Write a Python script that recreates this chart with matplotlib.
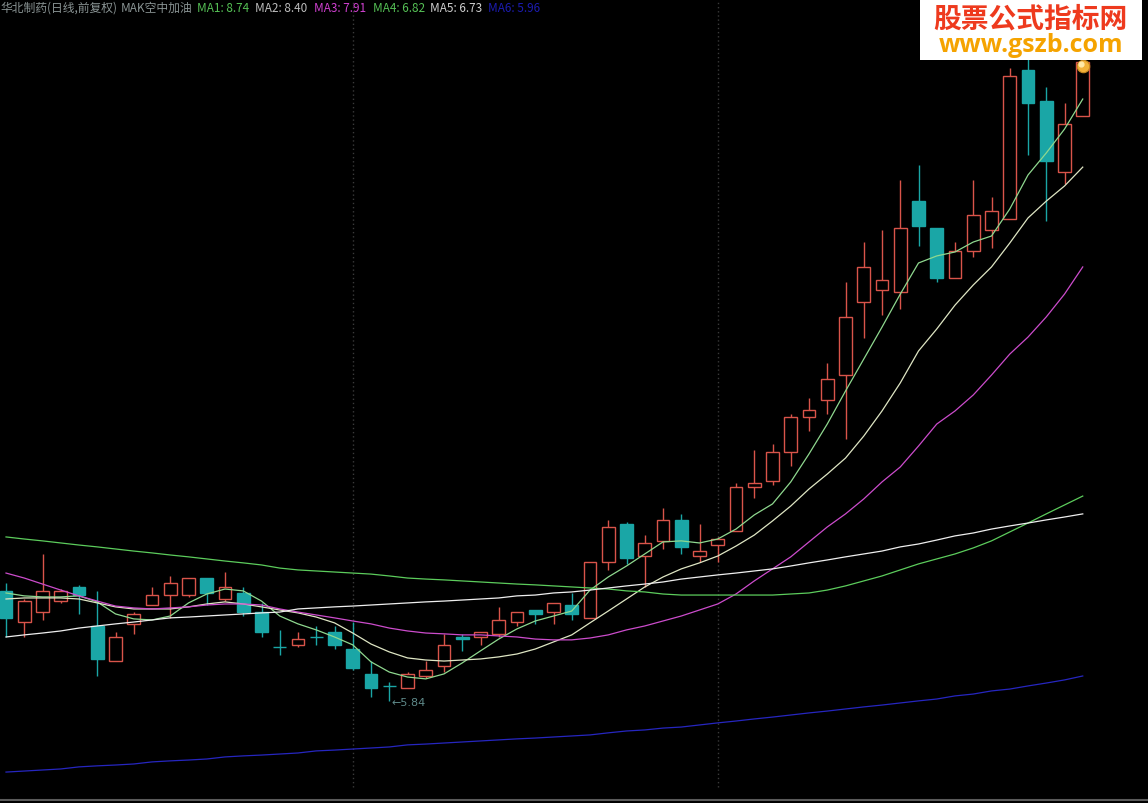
import numpy as np
import matplotlib.pyplot as plt
from matplotlib.patches import Rectangle

# daily candles
opens = [6.37, 6.22, 6.27, 6.32, 6.39, 6.20, 6.03, 6.21, 6.30, 6.35,
         6.35, 6.43, 6.33, 6.36, 6.27, 6.10, 6.11, 6.15, 6.17, 6.09,
         5.97, 5.91, 5.90, 5.96, 6.01, 6.15, 6.15, 6.16, 6.22, 6.28,
         6.27, 6.30, 6.24, 6.51, 6.69, 6.54, 6.61, 6.71, 6.54, 6.59,
         6.66, 6.87, 6.90, 7.04, 7.21, 7.29, 7.41, 7.76, 7.82, 7.81,
         8.25, 8.12, 7.88, 8.01, 8.11, 8.16, 8.88, 8.73, 8.39, 8.66]
highs = [6.41, 6.33, 6.55, 6.38, 6.40, 6.37, 6.17, 6.27, 6.39, 6.44,
         6.43, 6.43, 6.46, 6.39, 6.31, 6.18, 6.17, 6.20, 6.20, 6.22,
         6.03, 5.93, 5.98, 6.03, 6.16, 6.16, 6.17, 6.29, 6.27, 6.28,
         6.31, 6.36, 6.51, 6.71, 6.70, 6.64, 6.77, 6.74, 6.69, 6.63,
         6.89, 7.05, 7.08, 7.22, 7.30, 7.47, 7.86, 8.05, 8.11, 8.35,
         8.42, 8.12, 8.05, 8.35, 8.27, 8.89, 8.98, 8.80, 8.72, 8.95]
lows = [6.15, 6.15, 6.23, 6.31, 6.26, 5.96, 6.03, 6.16, 6.30, 6.24,
        6.34, 6.30, 6.32, 6.25, 6.15, 6.06, 6.10, 6.11, 6.09, 5.99,
        5.86, 5.84, 5.90, 5.95, 5.98, 6.08, 6.11, 6.15, 6.20, 6.21,
        6.21, 6.23, 6.24, 6.47, 6.50, 6.39, 6.57, 6.55, 6.51, 6.51,
        6.66, 6.82, 6.88, 6.97, 7.14, 7.22, 7.10, 7.59, 7.70, 7.73,
        8.03, 7.86, 7.88, 7.98, 8.02, 8.16, 8.47, 8.15, 8.33, 8.66]
closes = [6.24, 6.32, 6.37, 6.37, 6.35, 6.04, 6.15, 6.26, 6.35, 6.41,
          6.43, 6.36, 6.39, 6.27, 6.17, 6.10, 6.14, 6.15, 6.11, 6.00,
          5.90, 5.91, 5.97, 5.99, 6.11, 6.14, 6.17, 6.23, 6.27, 6.26,
          6.31, 6.26, 6.51, 6.68, 6.53, 6.60, 6.71, 6.58, 6.56, 6.62,
          6.87, 6.89, 7.04, 7.21, 7.24, 7.39, 7.69, 7.93, 7.87, 8.12,
          8.13, 7.88, 8.01, 8.18, 8.20, 8.85, 8.72, 8.44, 8.62, 8.92]

# moving average lines (values at each candle)
ma1 = [6.360, 6.346, 6.341, 6.341, 6.346, 6.317, 6.259, 6.235, 6.230, 6.249,
       6.312, 6.355, 6.379, 6.370, 6.321, 6.249, 6.211, 6.182, 6.148, 6.110,
       6.028, 5.979, 5.955, 5.946, 5.970, 6.023, 6.081, 6.138, 6.187, 6.225,
       6.249, 6.273, 6.374, 6.437, 6.490, 6.548, 6.606, 6.611, 6.601, 6.620,
       6.668, 6.736, 6.789, 6.895, 7.030, 7.174, 7.333, 7.487, 7.641, 7.800,
       7.950, 7.984, 8.003, 8.051, 8.080, 8.210, 8.374, 8.480, 8.595, 8.740]
ma2 = [6.331, 6.336, 6.336, 6.336, 6.331, 6.312, 6.293, 6.283, 6.283, 6.283,
       6.293, 6.307, 6.317, 6.307, 6.293, 6.278, 6.264, 6.244, 6.216, 6.167,
       6.114, 6.076, 6.047, 6.037, 6.032, 6.037, 6.042, 6.052, 6.066, 6.090,
       6.124, 6.158, 6.216, 6.273, 6.331, 6.389, 6.437, 6.476, 6.505, 6.538,
       6.586, 6.639, 6.707, 6.779, 6.861, 6.933, 7.010, 7.116, 7.237, 7.372,
       7.526, 7.632, 7.747, 7.844, 7.931, 8.046, 8.167, 8.248, 8.321, 8.412]
ma3 = [6.456, 6.432, 6.403, 6.374, 6.346, 6.321, 6.297, 6.288, 6.283, 6.288,
       6.293, 6.302, 6.307, 6.307, 6.302, 6.283, 6.268, 6.254, 6.240, 6.225,
       6.211, 6.191, 6.177, 6.167, 6.163, 6.158, 6.158, 6.153, 6.148, 6.138,
       6.134, 6.134, 6.143, 6.158, 6.182, 6.201, 6.225, 6.249, 6.278, 6.307,
       6.355, 6.418, 6.476, 6.534, 6.606, 6.678, 6.741, 6.813, 6.895, 6.967,
       7.068, 7.174, 7.237, 7.314, 7.410, 7.511, 7.593, 7.690, 7.800, 7.931]
ma4 = [6.630, 6.620, 6.611, 6.601, 6.591, 6.582, 6.572, 6.562, 6.553, 6.543,
       6.534, 6.524, 6.514, 6.505, 6.495, 6.480, 6.471, 6.466, 6.461, 6.456,
       6.451, 6.442, 6.432, 6.427, 6.423, 6.418, 6.413, 6.408, 6.403, 6.399,
       6.394, 6.389, 6.384, 6.379, 6.370, 6.365, 6.355, 6.350, 6.350, 6.350,
       6.350, 6.350, 6.350, 6.355, 6.360, 6.374, 6.394, 6.418, 6.442, 6.471,
       6.500, 6.524, 6.548, 6.577, 6.611, 6.654, 6.697, 6.741, 6.784, 6.827]
ma5 = [6.148, 6.158, 6.167, 6.177, 6.191, 6.201, 6.211, 6.220, 6.230, 6.240,
       6.244, 6.249, 6.254, 6.259, 6.264, 6.268, 6.283, 6.288, 6.293, 6.297,
       6.302, 6.307, 6.312, 6.317, 6.321, 6.326, 6.331, 6.336, 6.346, 6.350,
       6.360, 6.365, 6.374, 6.384, 6.394, 6.403, 6.413, 6.427, 6.437, 6.447,
       6.456, 6.466, 6.476, 6.490, 6.505, 6.519, 6.534, 6.548, 6.562, 6.582,
       6.596, 6.615, 6.635, 6.649, 6.668, 6.683, 6.697, 6.712, 6.726, 6.741]
ma6 = [5.497, 5.502, 5.507, 5.512, 5.522, 5.527, 5.531, 5.536, 5.546, 5.551,
       5.555, 5.560, 5.570, 5.575, 5.579, 5.584, 5.589, 5.599, 5.603, 5.608,
       5.613, 5.618, 5.628, 5.632, 5.637, 5.642, 5.647, 5.652, 5.657, 5.661,
       5.666, 5.671, 5.676, 5.686, 5.695, 5.700, 5.709, 5.714, 5.724, 5.734,
       5.743, 5.753, 5.762, 5.772, 5.782, 5.791, 5.801, 5.811, 5.820, 5.830,
       5.840, 5.849, 5.864, 5.873, 5.888, 5.897, 5.912, 5.926, 5.941, 5.960]

ma_names = ["MA1", "MA2", "MA3", "MA4", "MA5", "MA6"]
ma_labels = ["8.74", "8.40", "7.91", "6.82", "6.73", "5.96"]
low_label = "5.84"

red = "#d9544a"
cyan = "#1aa6a6"
line_colors = ["#8fd88f", "#dfe6c4", "#cc4ccc", "#5ccc5c", "#eeeeee", "#2626c0"]
text_colors = ["#55c055", "#bdbdbd", "#d040d0", "#55c055", "#cfcfcf", "#1c1cb0"]

cjk = ["Noto Sans CJK SC", "DejaVu Sans"]

o = np.array(opens)
h = np.array(highs)
l = np.array(lows)
c = np.array(closes)
x = np.arange(len(o))
up = c > o
dn = ~up

fig = plt.figure(figsize=(11.48, 8.04), dpi=100, facecolor="black")
ax = fig.add_axes([0, 0, 1, 1])
ax.set_facecolor("black")

# faint dotted separators
ax.vlines([19, 39], 5.425, 9.222, colors="#3a3a3a", linestyles=(0, (1, 2)), lw=1, zorder=1)

# wicks - hollow red candles get split wicks so the box stays empty
ax.vlines(x[up], np.maximum(o, c)[up], h[up], colors=red, lw=1, zorder=2)
ax.vlines(x[up], l[up], np.minimum(o, c)[up], colors=red, lw=1, zorder=2)
ax.vlines(x[dn], l[dn], h[dn], colors=cyan, lw=1, zorder=2)

# bodies
w = 0.7
ax.bar(x[up], (c - o)[up], bottom=o[up], width=w, facecolor="black",
       edgecolor=red, linewidth=1, zorder=3)
ax.bar(x[dn], (o - c)[dn], bottom=c[dn], width=w, facecolor=cyan,
       edgecolor=cyan, linewidth=1, zorder=3)

# moving averages on top
for vals, col in zip([ma1, ma2, ma3, ma4, ma5, ma6], line_colors):
    ax.plot(x, vals, color=col, lw=0.9, zorder=4)

# marker ball on the last candle
ax.scatter([x[-1]], [c[-1] - 0.02], s=80, color="#f2b23a", edgecolors="#c78a20",
           linewidths=0.8, zorder=6)
ax.scatter([x[-1] - 0.08], [c[-1] - 0.01], s=12, color="#ffe9a8", zorder=7)

# lowest low annotation
ax.text(21.15, l.min() - 0.005, "\u2190" + low_label, color="#5f8a8a", fontsize=8,
        ha="left", va="center", zorder=5)

# bottom border
ax.axhline(5.3626, color="#5a5a5a", lw=1.5, zorder=5)

ax.set_xlim(-6 / 18.25, 1142 / 18.25)
ax.set_ylim(5.348, 9.222)
ax.set_xticks([])
ax.set_yticks([])
for s in ax.spines.values():
    s.set_visible(False)

# header line
ty = 1 - 8 / 804
fig.text(0 / 1148, ty, "华北制药(日线,前复权)", color="#8a9494", fontsize=8.5,
         family=cjk, ha="left", va="center")
fig.text(121 / 1148, ty, "MAK空中加油", color="#8a9494", fontsize=8.5,
         family=cjk, ha="left", va="center")
hx = [197, 255, 314, 373, 430, 488]
for px, nm, val, col in zip(hx, ma_names, ma_labels, text_colors):
    fig.text(px / 1148, ty, nm + ": " + val, color=col, fontsize=8.5,
             family=cjk, ha="left", va="center")

# watermark box top right
fig.add_artist(Rectangle((920 / 1148, 1 - 61 / 804), 222 / 1148, 61 / 804,
                         transform=fig.transFigure, facecolor="white",
                         edgecolor="none", zorder=8))
fig.text(1030 / 1148, 1 - 20 / 804, "股票公式指标网", color="#ee3a1e", fontsize=20,
         fontweight="bold", family=cjk, ha="center", va="center", zorder=9)
fig.text(1031 / 1148, 1 - 45 / 804, "www.gszb.com", color="#f5a300", fontsize=18,
         fontweight="bold", family=["Open Sans", "DejaVu Sans"], ha="center",
         va="center", zorder=9)

plt.savefig("out.png", dpi=100, facecolor="black")
